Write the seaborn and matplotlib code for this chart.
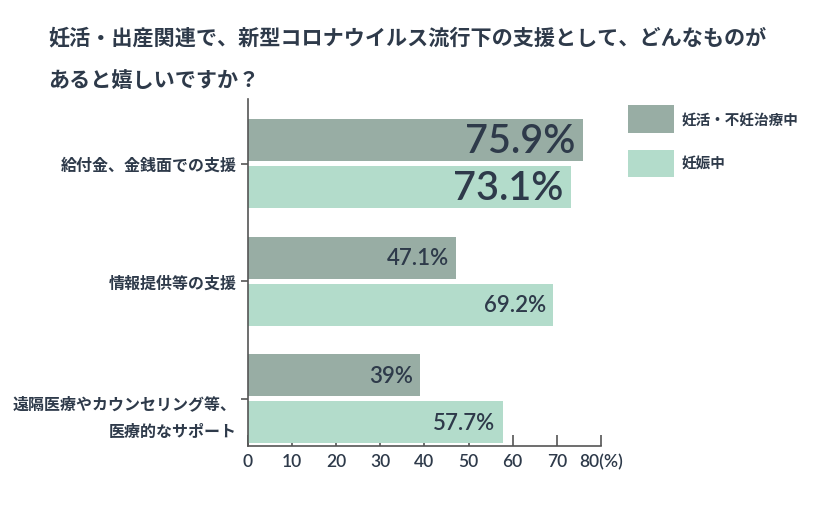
import numpy as np
import pandas as pd
import matplotlib
matplotlib.use('Agg')
import matplotlib.pyplot as plt
import matplotlib.transforms as mtransforms
from matplotlib.patches import Patch
import seaborn as sns

# data
categories = ['給付金、金銭面での支援', '情報提供等の支援', '遠隔医療やカウンセリング等、\n医療的なサポート']
series = ['妊活・不妊治療中', '妊娠中']
trying = [75.9, 47.1, 39]
pregnant = [73.1, 69.2, 57.7]
trying_labels = ['75.9%', '47.1%', '39%']
pregnant_labels = ['73.1%', '69.2%', '57.7%']
xticks = [0, 10, 20, 30, 40, 50, 60, 70, 80]
xtick_labels = ['0', '10', '20', '30', '40', '50', '60', '70', '80(%)']

title_lines = ['妊活・出産関連で、新型コロナウイルス流行下の支援として、どんなものが',
               'あると嬉しいですか？']

colors = ['#98ada4', '#b3dccb']
text_color = '#2e3a4a'
num_font = ['Lato', 'DejaVu Sans']

sns.set_style('white')
plt.rcParams['font.family'] = ['Noto Sans CJK JP', 'DejaVu Sans']

df = pd.DataFrame({
    'category': categories * 2,
    'group': [series[0]] * 3 + [series[1]] * 3,
    'value': trying + pregnant,
})

fig = plt.figure(figsize=(8.39, 5.06), dpi=100)
ax = fig.add_axes([0.2956, 0.1166, 0.4207, 0.6854])

sns.barplot(data=df, y='category', x='value', hue='group', orient='h',
            palette=colors, width=0.8, gap=0.11, ax=ax, legend=False,
            saturation=1, edgecolor='none')

ax.set_xlim(0, 80)
ax.set_ylim(2.404, -0.549)
ax.set_xlabel('')
ax.set_ylabel('')

# value labels inside bars
label_sizes = [28.5, 16, 16]
for i, (a, b) in enumerate(zip(trying, pregnant)):
    ax.text(a - 1.6, i - 0.2, trying_labels[i], ha='right', va='center',
            fontsize=label_sizes[i], color=text_color, family=num_font, fontweight='semibold')
    ax.text(b - 1.6, i + 0.2, pregnant_labels[i], ha='right', va='center',
            fontsize=label_sizes[i], color=text_color, family=num_font, fontweight='semibold')

ax.set_xticks(xticks)
ax.set_xticklabels(xtick_labels, fontsize=12.5, color=text_color, family=num_font,
                   fontweight='semibold')
ax.tick_params(axis='x', bottom=True, direction='in', length=8, width=1.2, color='#555555', pad=5)
ax.set_yticks(range(len(categories)))
ax.set_yticklabels(categories, fontsize=11.5, color=text_color, fontweight='bold',
                   linespacing=1.9, ha='right')
ax.tick_params(axis='y', left=True, direction='out', length=5, width=1.2, color='#555555', pad=3)

# the two-line label sits a bit lower in the reference
last = ax.get_yticklabels()[2]
last.set_transform(last.get_transform() +
                   mtransforms.ScaledTranslation(0, -0.11, fig.dpi_scale_trans))

for side in ['top', 'right']:
    ax.spines[side].set_visible(False)
for side in ['left', 'bottom']:
    ax.spines[side].set_color('#555555')
    ax.spines[side].set_linewidth(1.2)

handles = [Patch(facecolor=c, edgecolor='none') for c in colors]
leg = fig.legend(handles, series, loc='upper left', bbox_to_anchor=(0.748, 0.79),
                 frameon=False, fontsize=10.5, handlelength=3.2, handleheight=2.5,
                 labelspacing=1.2, handletextpad=0.5, borderaxespad=0, borderpad=0)
for t in leg.get_texts():
    t.set_color(text_color)
    t.set_fontweight('bold')

fig.text(0.057, 0.925, title_lines[0], fontsize=15.2, fontweight='bold', color=text_color, va='center')
fig.text(0.057, 0.84, title_lines[1], fontsize=15.2, fontweight='bold', color=text_color, va='center')

plt.savefig('out.png', dpi=100)
